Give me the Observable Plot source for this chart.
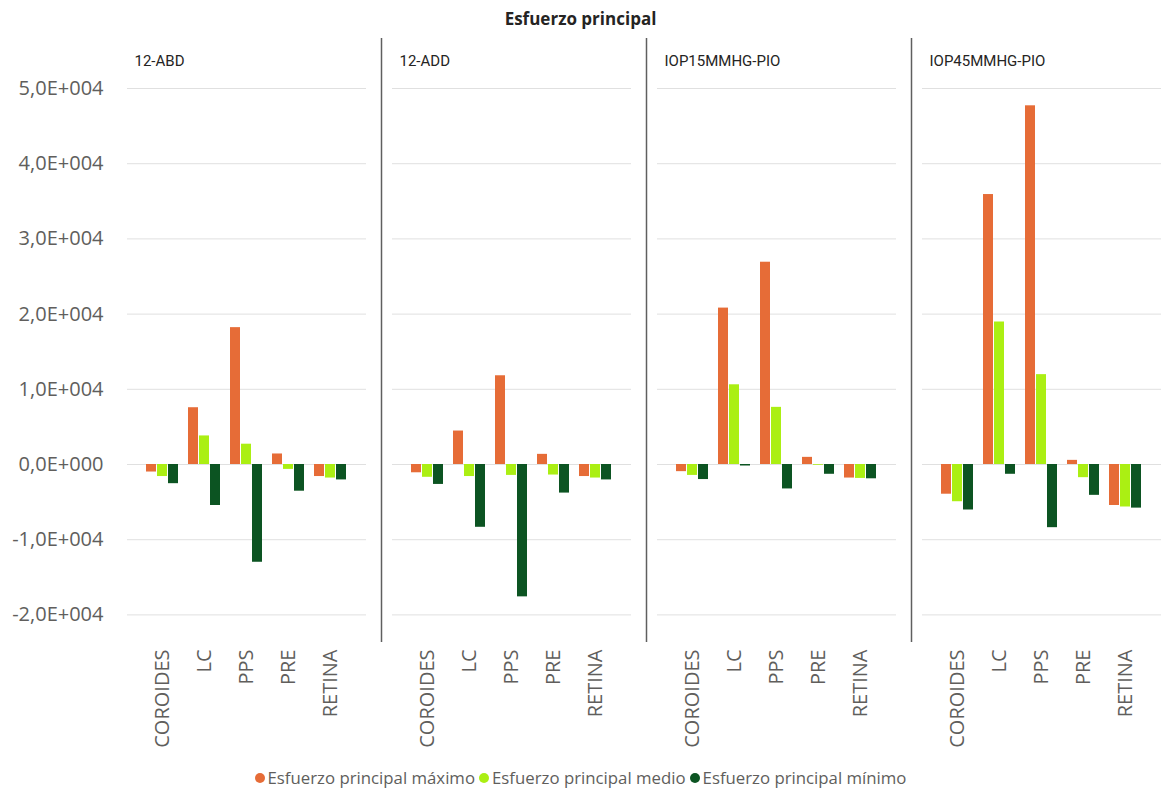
<!DOCTYPE html>
<html>
<head>
<meta charset="utf-8">
<script src="https://cdn.jsdelivr.net/npm/d3@7"></script>
<script src="https://cdn.jsdelivr.net/npm/@observablehq/plot@0.6"></script>
<style>
  body { margin: 0; background: #fff; font-family: "Open Sans", sans-serif; overflow: hidden; }
  #title { height: 36px; line-height: 38px; text-align: center; font-weight: 700; font-size: 17px; color: #252423; }
  #legend { display: flex; justify-content: center; align-items: center; height: 29px; padding-top: 3px; font-size: 16.8px; color: #605E5C; }
  #legend .item { display: flex; align-items: center; margin: 0 2px; }
  #legend .dot { width: 10px; height: 10px; border-radius: 50%; margin-right: 3px; }
</style>
</head>
<body>
<div id="title">Esfuerzo principal</div>
<div id="chart"></div>
<div id="legend"></div>
<script>
// Model cases (one panel each) and tissues (one bar group each)
const panels = ["12-ABD", "12-ADD", "IOP15MMHG-PIO", "IOP45MMHG-PIO"];
const tissues = ["COROIDES", "LC", "PPS", "PRE", "RETINA"];
const seriesNames = ["Esfuerzo principal máximo", "Esfuerzo principal medio", "Esfuerzo principal mínimo"];
const seriesColors = ["#E66C37", "#ABEF13", "#0C5422"];
const yTicks = [-20000, -10000, 0, 10000, 20000, 30000, 40000, 50000];

// Stress values per panel, in tissue order
const maximo = [
  [-1000, 7550, 18200, 1400, -1600],
  [-1100, 4450, 11800, 1350, -1600],
  [-950, 20800, 26900, 950, -1800],
  [-3950, 35900, 47700, 550, -5450]
];
const medio = [
  [-1600, 3800, 2700, -650, -1800],
  [-1700, -1600, -1450, -1400, -1800],
  [-1450, 10600, 7600, -100, -1850],
  [-4950, 18950, 11950, -1750, -5650]
];
const minimo = [
  [-2550, -5450, -13000, -3550, -2050],
  [-2650, -8350, -17600, -3800, -2050],
  [-2000, -200, -3250, -1300, -1900],
  [-6050, -1300, -8400, -4100, -5800]
];

const seriesValues = [maximo, medio, minimo];
const rows = seriesValues.map((vals, s) =>
  panels.flatMap((p, i) => tissues.map((t, j) => ({panel: p, tissue: t, series: seriesNames[s], value: vals[i][j]})))
);

// Three bars share each tissue band: left, middle and right thirds
const third = 11;
const barMarks = rows.map((data, s) =>
  Plot.barY(data, {
    fx: "panel", x: "tissue", y: "value",
    fill: seriesColors[s],
    insetLeft: s * third, insetRight: (2 - s) * third
  })
);

const fmt = v => (v === 0 ? "0,0E+000" : (v / 10000).toFixed(1).replace(".", ",") + "E+004");

const chart = Plot.plot({
  width: 1161,
  height: 724,
  marginLeft: 127,
  marginRight: 0,
  marginTop: 2,
  marginBottom: 118,
  style: {fontFamily: "Open Sans, sans-serif", color: "#605E5C", background: "#fff"},
  fx: {domain: panels, paddingInner: 0.1, paddingOuter: 0, axis: null, label: null},
  x: {domain: tissues, paddingInner: 0.23, paddingOuter: 0.41, label: null},
  y: {domain: [-23670, 56650], label: null},
  marks: [
    Plot.ruleY(yTicks, {stroke: "#e0e0e0", strokeWidth: 1}),
    ...barMarks,
    Plot.ruleX(panels.slice(1), {fx: d => d, x: () => tissues[0], dx: -46, stroke: "#5f5f5f", strokeWidth: 1.5}),
    Plot.text(panels, {fx: d => d, text: d => d, frameAnchor: "top-left", dx: 7, dy: 23, lineAnchor: "middle",
      fontSize: 15, fontWeight: 400, fill: "#252423", fontFamily: "Roboto, sans-serif", letterSpacing: "0.7px"}),
    Plot.axisY({ticks: yTicks, tickFormat: fmt, tickSize: 0, tickPadding: 24, fontSize: 20, label: null}),
    Plot.axisX({tickRotate: -90, tickSize: 0, tickPadding: 7, fontSize: 20, label: null})
  ]
});
document.getElementById("chart").appendChild(chart);

// Legend under the chart
const legend = document.getElementById("legend");
seriesNames.forEach((name, i) => {
  const item = document.createElement("div");
  item.className = "item";
  const dot = document.createElement("span");
  dot.className = "dot";
  dot.style.background = seriesColors[i];
  const label = document.createElement("span");
  label.textContent = name;
  item.appendChild(dot);
  item.appendChild(label);
  legend.appendChild(item);
});
</script>
</body>
</html>
